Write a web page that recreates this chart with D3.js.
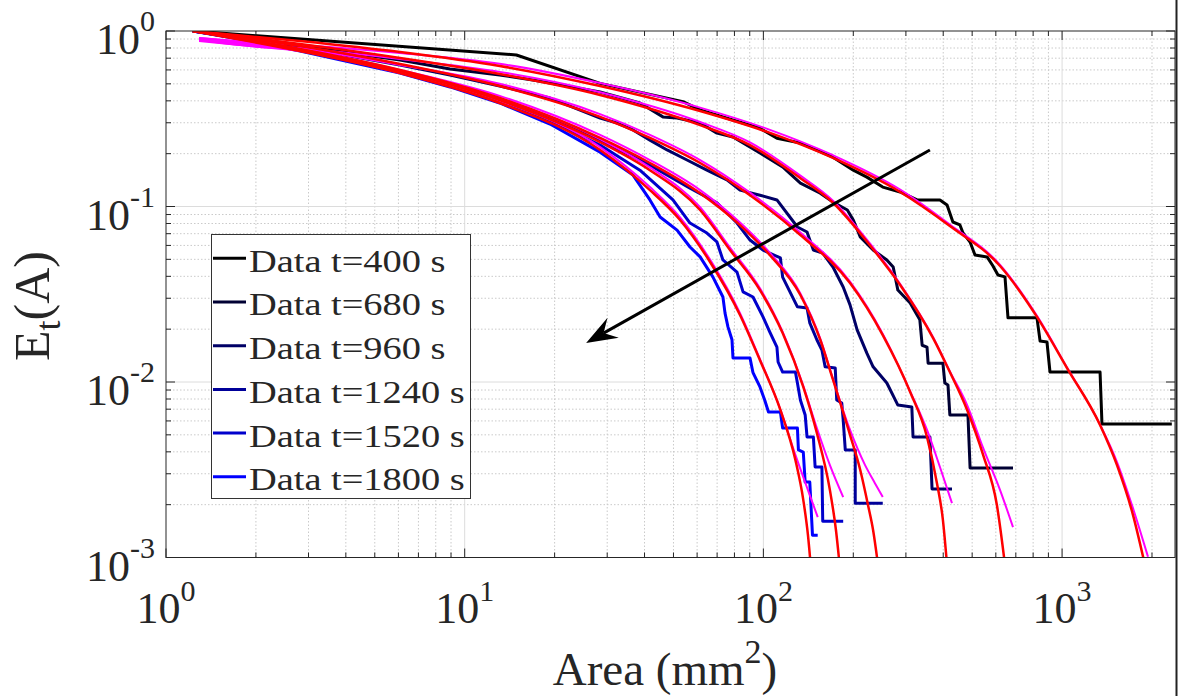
<!DOCTYPE html>
<html><head><meta charset="utf-8">
<script src="https://cdn.jsdelivr.net/npm/d3@7"></script>
<style>
body{margin:0;background:#fff;}
svg{display:block;}
text{font-family:"Liberation Serif","Times New Roman",Times,serif;fill:#262626;}
</style>
</head><body>
<svg id="chart" width="1182" height="696"></svg>
<script>
// ---------------- data ----------------
const seriesNames = ["Data t=400 s","Data t=680 s","Data t=960 s","Data t=1240 s","Data t=1520 s","Data t=1800 s"];
const seriesColors = ["#000000","#000033","#000066","#000099","#0000cc","#0000ff"];

const data400 = [[1.23,1],[14.9,0.73],[28.4,0.503],[53.8,0.396],[61.4,0.355],[79,0.311],[97,0.28],[111,0.245],[133,0.23],[171,0.191],[200,0.161],[222,0.147],[251,0.129],[287,0.121],[327,0.109],[390,0.109],[412,0.102],[431,0.0816],[455,0.0785],[466,0.0707],[492,0.0628],[511,0.0529],[561,0.0516],[587,0.0458],[610,0.0407],[644,0.0397],[659,0.0232],[824,0.0232],[844,0.0171],[890,0.0169],[911,0.0114],[1340,0.0114],[1360,0.00577],[2330,0.00577]];
const data680 = [[1.23,1],[1.91,0.912],[2.81,0.832],[4.13,0.749],[6.07,0.684],[8.93,0.607],[13.1,0.561],[16.9,0.526],[19.3,0.505],[28.4,0.449],[38.6,0.389],[46.1,0.324],[51.4,0.319],[61.4,0.299],[69.9,0.262],[79.1,0.249],[97.4,0.202],[116,0.168],[133,0.136],[155,0.119],[171,0.106],[191,0.0955],[200,0.0838],[211,0.0671],[233,0.0565],[259,0.0496],[272,0.0452],[282,0.0334],[310,0.0282],[334,0.0226],[340,0.0162],[353,0.0158],[356,0.0128],[399,0.0128],[405,0.00987],[415,0.00961],[421,0.00649],[484,0.00649],[492,0.00324],[685,0.00324]];
const data960 = [[1.23,1],[1.91,0.9],[2.81,0.811],[4.13,0.72],[6.07,0.64],[8.93,0.561],[13.1,0.486],[19.3,0.415],[28.4,0.319],[32.4,0.299],[36.6,0.273],[41.7,0.239],[47.6,0.21],[55.5,0.184],[64.7,0.161],[75.5,0.142],[83.5,0.124],[97.4,0.116],[111,0.109],[130,0.0764],[140,0.0716],[147,0.0565],[158,0.0543],[171,0.0452],[185,0.0348],[195,0.0275],[206,0.0198],[222,0.0146],[233,0.0122],[259,0.00987],[282,0.00739],[314,0.0072],[317,0.00486],[361,0.00486],[367,0.00246],[428,0.00246]];
const data1240 = [[1.23,1],[1.91,0.889],[2.81,0.779],[4.13,0.684],[6.07,0.592],[8.93,0.499],[13.1,0.41],[19.3,0.319],[28.4,0.239],[41.7,0.172],[56.8,0.127],[69.9,0.105],[81.6,0.0805],[90.2,0.0644],[99.7,0.0565],[114,0.0509],[116,0.0396],[130,0.0268],[140,0.0264],[143,0.0217],[151,0.0174],[157,0.0152],[161,0.0122],[174,0.012],[176,0.0079],[183,0.00759],[185,0.00608],[188,0.0041],[203,0.0041],[203,0.00204],[251,0.00204]];
const data1520 = [[1.23,1],[1.91,0.889],[2.81,0.779],[4.13,0.675],[6.07,0.584],[8.93,0.492],[13.1,0.399],[19.3,0.307],[28.4,0.224],[38.6,0.161],[49.8,0.109],[56.8,0.0805],[64.7,0.0706],[69.9,0.0628],[73.2,0.0496],[81.6,0.0423],[85.5,0.0326],[92.3,0.0305],[99.7,0.0235],[105,0.0193],[111,0.0158],[112,0.013],[116,0.0114],[128,0.0114],[130,0.00987],[133,0.0079],[138,0.00649],[140,0.00486],[147,0.00486],[149,0.00328],[157,0.00328],[158,0.00161],[185,0.00161]];
const data1800 = [[1.23,1],[1.91,0.877],[2.81,0.769],[4.13,0.666],[6.07,0.576],[8.93,0.48],[13.1,0.389],[19.3,0.295],[28.4,0.204],[36.6,0.151],[41.7,0.109],[45.1,0.0871],[51.4,0.0734],[56.8,0.0588],[61.4,0.0516],[67.8,0.0396],[73.2,0.0305],[74.4,0.0247],[76.1,0.0206],[78.5,0.0174],[79.1,0.0137],[90.2,0.0137],[92.3,0.0113],[97.4,0.00937],[101,0.0079],[104,0.00675],[114,0.00675],[116,0.00547],[130,0.00547],[131,0.0041],[136,0.00399],[138,0.00269],[143,0.00269],[146,0.00134],[152,0.00134]];

const red400 = [[1.23,1],[2.81,0.877],[6.07,0.759],[13.1,0.632],[28.4,0.486],[61.4,0.35],[103,0.266],[171,0.189],[287,0.121],[421,0.0774],[620,0.0458],[824,0.0235],[1039,0.012],[1340,0.00569],[1527,0.00336],[1727,0.00175],[1894,0.000907]];
const red680 = [[1.23,1],[2.81,0.843],[6.07,0.702],[13.1,0.569],[28.4,0.432],[61.4,0.291],[90.2,0.224],[133,0.145],[171,0.105],[227,0.0603],[287,0.0357],[370,0.0178],[421,0.0114],[481,0.00693],[544,0.00384],[605,0.00199],[644,0.000907]];
const red960 = [[1.23,1],[2.81,0.821],[6.07,0.649],[13.1,0.486],[28.4,0.324],[41.7,0.246],[61.4,0.177],[90.2,0.116],[133,0.0688],[195,0.0366],[251,0.0185],[310,0.00877],[353,0.00486],[381,0.00266],[399,0.00164],[412,0.000907]];
const red1240 = [[1.23,1],[2.81,0.79],[6.07,0.6],[13.1,0.415],[28.4,0.246],[41.7,0.177],[61.4,0.119],[83.5,0.0784],[105,0.0529],[133,0.0313],[155,0.0174],[171,0.0103],[195,0.00499],[211,0.00315],[224,0.00199],[233,0.00143],[242,0.000907]];
const red1520 = [[1.23,1],[2.81,0.779],[6.07,0.592],[13.1,0.404],[28.4,0.233],[41.7,0.161],[61.4,0.0955],[77.3,0.0565],[97.4,0.0334],[116,0.019],[136,0.00937],[151,0.00512],[167,0.00242],[175,0.00143],[180,0.000907]];
const red1800 = [[1.23,1],[2.81,0.769],[6.07,0.576],[13.1,0.389],[28.4,0.21],[41.7,0.124],[52.6,0.0838],[66.3,0.0483],[83.5,0.0241],[97.4,0.0133],[114,0.00693],[128,0.00359],[136,0.00213],[141,0.00134],[144,0.000907]];

const mag400 = [[1.29,0.912],[1.91,0.866],[2.81,0.832],[6.07,0.749],[13.1,0.65],[28.4,0.505],[61.4,0.366],[103,0.277],[171,0.196],[287,0.125],[421,0.079],[620,0.0465],[824,0.0238],[1039,0.0121],[1340,0.00572],[1527,0.0035],[1727,0.00191],[1939,0.00101]];
const mag680 = [[1.29,0.9],[1.91,0.843],[2.81,0.8],[6.07,0.693],[13.1,0.585],[28.4,0.448],[61.4,0.303],[90.2,0.232],[133,0.15],[171,0.108],[227,0.0618],[287,0.0362],[370,0.018],[421,0.0115],[481,0.00739],[544,0.00421],[620,0.00242],[685,0.00149]];
const mag960 = [[1.29,0.889],[1.91,0.832],[2.81,0.79],[6.07,0.64],[13.1,0.5],[28.4,0.336],[41.7,0.256],[61.4,0.184],[90.2,0.12],[133,0.071],[195,0.0373],[251,0.0188],[310,0.00885],[353,0.00533],[390,0.00328],[428,0.00204]];
const mag1240 = [[1.29,0.889],[1.91,0.821],[2.81,0.779],[6.07,0.6],[13.1,0.427],[28.4,0.256],[41.7,0.184],[61.4,0.124],[83.5,0.081],[105,0.0545],[133,0.032],[155,0.0177],[171,0.0104],[195,0.00533],[219,0.00336],[236,0.00266],[251,0.00221]];
const mag1520 = [[1.29,0.912],[1.91,0.854],[2.81,0.79],[6.07,0.592],[13.1,0.415],[28.4,0.242],[41.7,0.167],[61.4,0.099],[77.3,0.0583],[97.4,0.0342],[116,0.0193],[136,0.0095],[151,0.00547],[167,0.00336],[185,0.00221]];
const mag1800 = [[1.29,0.877],[1.91,0.821],[2.81,0.769],[6.07,0.576],[13.1,0.4],[28.4,0.218],[41.7,0.129],[52.6,0.0868],[66.3,0.0498],[83.5,0.0247],[97.4,0.0135],[114,0.00697],[128,0.00384],[141,0.00242],[152,0.0017]];

const arrowPts = [[361,0.21],[25.5,0.0167]];

const xTickValues = [1,10,100,1000];
const xTickExps = ["0","1","2","3"];
const yTickValues = [1,0.1,0.01,0.001];
const yTickExps = ["0","-1","-2","-3"];
const xLabelMain = "Area (mm", xLabelSup = "2", xLabelEnd = ")";
const yLabelMain = "E", yLabelSub = "t", yLabelEnd = "(A)";

// ---------------- layout ----------------
const L = 166, R = 1175, T = 31, B = 557.5;
const svg = d3.select("#chart");
const x = d3.scaleLog().domain([1, 2388]).range([L, R]);
const y = d3.scaleLog().domain([1e-3, 1]).range([B, T]);

svg.append("rect").attr("width",1182).attr("height",696).attr("fill","#fff");

const xMinor = [], yMinor = [];
for (let e = 0; e <= 3; e++) for (let m = 2; m <= 9; m++) { const v = m * Math.pow(10, e); if (v <= 2388) xMinor.push(v); }
for (let e = -3; e <= -1; e++) for (let m = 2; m <= 9; m++) yMinor.push(m * Math.pow(10, e));

const grid = svg.append("g");
grid.selectAll(".gxm").data(xMinor).join("line")
  .attr("x1", d => x(d)).attr("x2", d => x(d)).attr("y1", T).attr("y2", B)
  .attr("stroke", "#cacaca").attr("stroke-width", 1).attr("stroke-dasharray", "1.5,2");
grid.selectAll(".gym").data(yMinor).join("line")
  .attr("y1", d => y(d)).attr("y2", d => y(d)).attr("x1", L).attr("x2", R)
  .attr("stroke", "#cacaca").attr("stroke-width", 1).attr("stroke-dasharray", "1.5,2");
grid.selectAll(".gxM").data(xTickValues.slice(1)).join("line")
  .attr("x1", d => x(d)).attr("x2", d => x(d)).attr("y1", T).attr("y2", B)
  .attr("stroke", "#dcdcdc").attr("stroke-width", 1);
grid.selectAll(".gyM").data(yTickValues.slice(1,3)).join("line")
  .attr("y1", d => y(d)).attr("y2", d => y(d)).attr("x1", L).attr("x2", R)
  .attr("stroke", "#dcdcdc").attr("stroke-width", 1);

svg.append("clipPath").attr("id","clip").append("rect")
  .attr("x", L).attr("y", T).attr("width", R - L).attr("height", B - T);
const plot = svg.append("g").attr("clip-path","url(#clip)");

const lineLin = d3.line().x(d => x(d[0])).y(d => y(d[1]));
const lineSmooth = d3.line().x(d => x(d[0])).y(d => y(d[1])).curve(d3.curveMonotoneX);

const dataSeries = [data400, data680, data960, data1240, data1520, data1800];
const redSeries = [red400, red680, red960, red1240, red1520, red1800];
const magSeries = [mag400, mag680, mag960, mag1240, mag1520, mag1800];

dataSeries.forEach((s, i) => {
  plot.append("path").attr("d", lineLin(s)).attr("fill","none")
    .attr("stroke", seriesColors[i]).attr("stroke-width", 3).attr("stroke-linejoin","round");
});
magSeries.forEach(s => {
  plot.append("path").attr("d", lineSmooth(s)).attr("fill","none")
    .attr("stroke", "#ff00ff").attr("stroke-width", 2);
});
redSeries.forEach(s => {
  plot.append("path").attr("d", lineSmooth(s)).attr("fill","none")
    .attr("stroke", "#ff0000").attr("stroke-width", 2.5);
});

// arrow annotation
const a0 = [x(arrowPts[0][0]), y(arrowPts[0][1])];
const a1 = [x(arrowPts[1][0]), y(arrowPts[1][1])];
const dx = a1[0] - a0[0], dy = a1[1] - a0[1], len = Math.hypot(dx, dy);
const ux = dx / len, uy = dy / len, px = -uy, py = ux;
const headLen = 31, headW = 11.5, notch = 20;
svg.append("line").attr("x1", a0[0]).attr("y1", a0[1])
  .attr("x2", a1[0] - ux * notch).attr("y2", a1[1] - uy * notch)
  .attr("stroke", "#000").attr("stroke-width", 3);
svg.append("path").attr("d",
  `M${a1[0]},${a1[1]} L${a1[0]-ux*headLen+px*headW},${a1[1]-uy*headLen+py*headW} L${a1[0]-ux*notch},${a1[1]-uy*notch} L${a1[0]-ux*headLen-px*headW},${a1[1]-uy*headLen-py*headW} Z`)
  .attr("fill","#000");

// axes box & ticks
const axisColor = "#262626";
svg.append("rect").attr("x", L).attr("y", T).attr("width", R - L).attr("height", B - T)
  .attr("fill","none").attr("stroke", axisColor).attr("stroke-width", 1);
svg.append("line").attr("x1", 1176.5).attr("x2", 1176.5).attr("y1", 0).attr("y2", 696)
  .attr("stroke", "#222").attr("stroke-width", 2);

const ticks = svg.append("g").attr("stroke", axisColor).attr("stroke-width", 1);
const majL = 9, minL = 5;
[[xTickValues, majL],[xMinor, minL]].forEach(([vals, len]) => {
  vals.forEach(v => {
    ticks.append("line").attr("x1", x(v)).attr("x2", x(v)).attr("y1", B).attr("y2", B - len);
    ticks.append("line").attr("x1", x(v)).attr("x2", x(v)).attr("y1", T).attr("y2", T + len);
  });
});
[[yTickValues, majL],[yMinor, minL]].forEach(([vals, len]) => {
  vals.forEach(v => {
    ticks.append("line").attr("y1", y(v)).attr("y2", y(v)).attr("x1", L).attr("x2", L + len);
    ticks.append("line").attr("y1", y(v)).attr("y2", y(v)).attr("x1", R).attr("x2", R - len);
  });
});

// tick labels
xTickValues.forEach((v, i) => {
  const t = svg.append("text").attr("x", x(v)).attr("y", 623).attr("text-anchor","middle").attr("font-size", 44);
  t.append("tspan").text("10");
  t.append("tspan").attr("font-size", 30).attr("dy", -22).text(xTickExps[i]);
});
yTickValues.forEach((v, i) => {
  const t = svg.append("text").attr("x", 155).attr("y", y(v) + 23).attr("text-anchor","end").attr("font-size", 44);
  t.append("tspan").text("10");
  t.append("tspan").attr("font-size", 30).attr("dy", -23).text(yTickExps[i]);
});

// axis labels
const xl = svg.append("text").attr("x", 665).attr("y", 685).attr("text-anchor","middle").attr("font-size", 47);
xl.append("tspan").text(xLabelMain);
xl.append("tspan").attr("font-size", 34).attr("dy", -22).text(xLabelSup);
xl.append("tspan").attr("dy", 22).text(xLabelEnd);

const yl = svg.append("text").attr("transform","translate(49,306) rotate(-90)").attr("text-anchor","middle").attr("font-size", 50);
yl.append("tspan").text(yLabelMain);
yl.append("tspan").attr("font-size", 36).attr("dy", 11).text(yLabelSub);
yl.append("tspan").attr("dy", -11).text(yLabelEnd);

// legend
const leg = svg.append("g");
leg.append("rect").attr("x", 211.5).attr("y", 234.5).attr("width", 259).attr("height", 264)
  .attr("fill","#fff").attr("stroke","#333").attr("stroke-width", 1);
seriesNames.forEach((name, i) => {
  const ly = 258.3 + i * 43.7;
  leg.append("line").attr("x1", 213).attr("x2", 246).attr("y1", ly).attr("y2", ly)
    .attr("stroke", seriesColors[i]).attr("stroke-width", 3);
  leg.append("text").attr("transform", `translate(249,${ly + 13.4}) scale(1.2,1)`)
    .attr("font-size", 32).attr("fill","#000").text(name);
});
</script>
</body></html>
